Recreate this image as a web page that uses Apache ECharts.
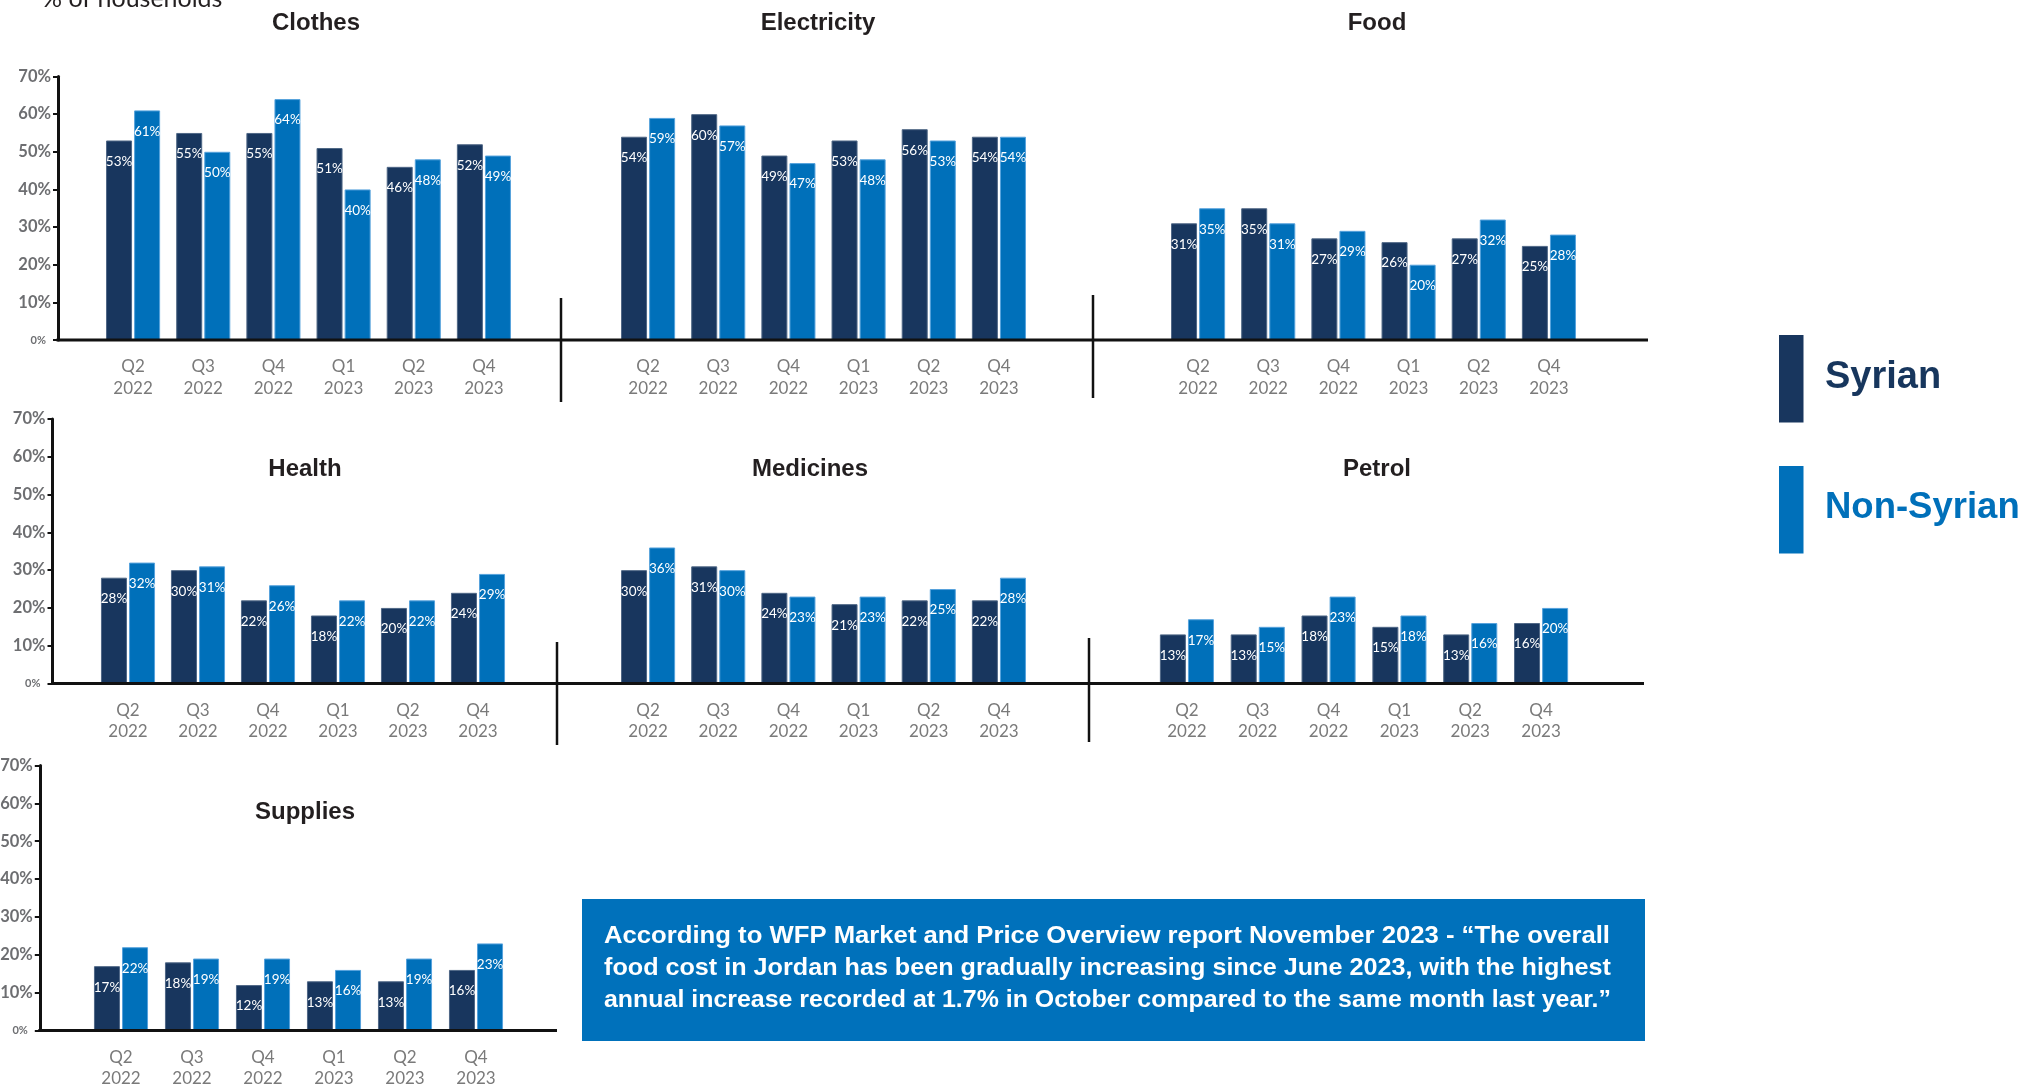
<!DOCTYPE html>
<html>
<head>
<meta charset="utf-8">
<title>Households reporting price increases by item</title>
<script src="https://cdn.jsdelivr.net/npm/echarts@6/dist/echarts.min.js"></script>
<style>
  html, body { margin: 0; padding: 0; background: #ffffff; }
  #chart { width: 2022px; height: 1086px; }
</style>
</head>
<body>
<div id="chart"></div>
<script>
// Survey rounds
const quarters = ['Q2', 'Q3', 'Q4', 'Q1', 'Q2', 'Q4'];
const years = ['2022', '2022', '2022', '2023', '2023', '2023'];

// Share of households (%) per item and nationality group
const clothesSyrian = [53, 55, 55, 51, 46, 52];
const clothesNonSyrian = [61, 50, 64, 40, 48, 49];
const electricitySyrian = [54, 60, 49, 53, 56, 54];
const electricityNonSyrian = [59, 57, 47, 48, 53, 54];
const foodSyrian = [31, 35, 27, 26, 27, 25];
const foodNonSyrian = [35, 31, 29, 20, 32, 28];
const healthSyrian = [28, 30, 22, 18, 20, 24];
const healthNonSyrian = [32, 31, 26, 22, 22, 29];
const medicinesSyrian = [30, 31, 24, 21, 22, 22];
const medicinesNonSyrian = [36, 30, 23, 23, 25, 28];
const petrolSyrian = [13, 13, 18, 15, 13, 16];
const petrolNonSyrian = [17, 15, 23, 18, 16, 20];
const suppliesSyrian = [17, 18, 12, 13, 13, 16];
const suppliesNonSyrian = [22, 19, 19, 16, 19, 23];

// Value axis
const yMin = 0, yMax = 70, yStep = 10;

const seriesNames = ['Syrian', 'Non-Syrian'];
const quoteText = [
  'According to WFP Market and Price Overview report November 2023 - \u201cThe overall',
  'food cost in Jordan has been gradually increasing since June 2023, with the highest',
  'annual increase recorded at 1.7% in October compared to the same month last year.\u201d'
];

const categories = quarters.map((q, i) => q + '\n' + years[i]);

const COLOR_SYR = '#18365e';
const COLOR_NON = '#0070ba';
const AXIS = '#111111';

// Panel layout: plot rectangles in pixels, axisOffset puts the value axis
// to the left of the first panel in each row.
const rows = [
  { top: 76.5, height: 263.5 },
  { top: 419, height: 264.5 },
  { top: 765.5, height: 265 }
];
const panels = [
  { title: 'Clothes',     syr: clothesSyrian,     non: clothesNonSyrian,     row: 0, left: 98,    width: 421, titleX: 316,  axisOffset: 40 },
  { title: 'Electricity', syr: electricitySyrian, non: electricityNonSyrian, row: 0, left: 613,   width: 421, titleX: 818 },
  { title: 'Food',        syr: foodSyrian,        non: foodNonSyrian,        row: 0, left: 1163,  width: 421, titleX: 1377 },
  { title: 'Health',      syr: healthSyrian,      non: healthNonSyrian,      row: 1, left: 93,    width: 420, titleX: 305,  axisOffset: 40.5 },
  { title: 'Medicines',   syr: medicinesSyrian,   non: medicinesNonSyrian,   row: 1, left: 613,   width: 421, titleX: 810 },
  { title: 'Petrol',      syr: petrolSyrian,      non: petrolNonSyrian,      row: 1, left: 1151.5, width: 425, titleX: 1377 },
  { title: 'Supplies',    syr: suppliesSyrian,    non: suppliesNonSyrian,    row: 2, left: 85.5,  width: 426, titleX: 305,  axisOffset: 45.7 }
];
const titleY = [23.4, 469.4, 812.7];

const grids = [], xAxes = [], yAxes = [], series = [];

panels.forEach((p, i) => {
  const r = rows[p.row];
  grids.push({
    left: p.left, top: r.top, width: p.width, height: r.height,
    containLabel: false, outerBoundsMode: 'none'
  });
  xAxes.push({
    gridIndex: i,
    type: 'category',
    data: categories,
    axisLine: { show: false },
    axisTick: { show: false },
    splitLine: { show: false },
    axisLabel: {
      interval: 0, margin: 16, color: '#7a7a7a',
      fontFamily: 'Lato', fontSize: 17, lineHeight: 21.5
    }
  });
  const hasAxis = p.axisOffset !== undefined;
  yAxes.push({
    gridIndex: i,
    type: 'value',
    min: yMin, max: yMax, interval: yStep,
    show: hasAxis,
    position: 'left',
    offset: hasAxis ? p.axisOffset : 0,
    splitLine: { show: false },
    axisLine: { show: true, lineStyle: { color: AXIS, width: 3 } },
    axisTick: { show: true, inside: false, length: 5, lineStyle: { color: AXIS, width: 2 } },
    axisLabel: {
      margin: 7, color: '#6d6e71', fontFamily: 'Lato', fontWeight: 'bold', fontSize: 16.5,
      formatter: v => (v === 0 ? '{z|0%}' : v + '%'),
      rich: { z: { fontSize: 11, fontWeight: 'bold', color: '#6d6e71', fontFamily: 'Lato', padding: [0, 5, 0, 0] } }
    }
  });
  const label = {
    show: true, position: 'insideTop', distance: 14,
    color: '#ffffff', fontFamily: 'Lato', fontSize: 13.5,
    formatter: d => d.value + '%'
  };
  series.push({
    name: seriesNames[0], type: 'bar', xAxisIndex: i, yAxisIndex: i,
    data: p.syr, barWidth: 26, barGap: '8%',
    itemStyle: { color: COLOR_SYR, borderColor: '#4f6786', borderWidth: 1 },
    label: label, silent: true
  });
  series.push({
    name: seriesNames[1], type: 'bar', xAxisIndex: i, yAxisIndex: i,
    data: p.non, barWidth: 26, barGap: '8%',
    itemStyle: { color: COLOR_NON, borderColor: '#56a2dc', borderWidth: 1 },
    label: label, silent: true
  });
});

// Decorations: panel titles, baselines, separators, legend, note box
const graphic = [];
const baseY = rows.map(r => r.top + r.height);

graphic.push({
  type: 'text', x: 42, y: -1, z: 10,
  style: { text: '% of households', font: '25px Lato', fill: '#231f20', textAlign: 'left', textVerticalAlign: 'middle' }
});

panels.forEach(p => {
  graphic.push({
    type: 'text', x: p.titleX, y: titleY[p.row], z: 10,
    style: { text: p.title, font: 'bold 24px "Liberation Sans", Arial, sans-serif', fill: '#231f20', textAlign: 'center', textVerticalAlign: 'middle' }
  });
});

const baselines = [[56.5, 1648], [51, 1644], [38.3, 557]];
baselines.forEach((b, i) => {
  graphic.push({
    type: 'line', z: 20,
    shape: { x1: b[0], y1: baseY[i], x2: b[1], y2: baseY[i] },
    style: { stroke: AXIS, lineWidth: 3 }
  });
});

const separators = [[561, 298, 402], [1093, 295, 398], [557, 642, 745], [1089, 638, 742]];
separators.forEach(s => {
  graphic.push({
    type: 'line', z: 20,
    shape: { x1: s[0], y1: s[1], x2: s[0], y2: s[2] },
    style: { stroke: AXIS, lineWidth: 2.5 }
  });
});

// Legend
const legendItems = [
  { name: seriesNames[0], color: COLOR_SYR, textColor: '#17365d', top: 335, textY: 378, size: 38 },
  { name: seriesNames[1], color: COLOR_NON, textColor: '#0070ba', top: 466, textY: 508, size: 36.5 }
];
legendItems.forEach(l => {
  graphic.push({ type: 'rect', z: 10, shape: { x: 1779, y: l.top, width: 24.5, height: 87.5 }, style: { fill: l.color } });
  graphic.push({
    type: 'text', x: 1825, y: l.textY, z: 10,
    style: { text: l.name, font: 'bold ' + l.size + 'px "Liberation Sans", Arial, sans-serif', fill: l.textColor, textAlign: 'left', textVerticalAlign: 'middle' }
  });
});

// Note box; each line of the condensed bold text is fitted to its width
graphic.push({ type: 'rect', z: 10, shape: { x: 582, y: 899, width: 1063, height: 142 }, style: { fill: '#0071bb' } });
const noteFont = 'bold 24px "Liberation Sans", Arial, sans-serif';
const noteWidths = [1006, 1007, 1007];
const ctx = document.createElement('canvas').getContext('2d');
ctx.font = noteFont;
quoteText.forEach((line, i) => {
  graphic.push({
    type: 'text', x: 604, y: 936 + i * 32.2, z: 11,
    scaleX: noteWidths[i] / ctx.measureText(line).width,
    style: { text: line, font: noteFont, fill: '#ffffff', textAlign: 'left', textVerticalAlign: 'middle' }
  });
});

const chart = echarts.init(document.getElementById('chart'), null, { renderer: 'canvas' });
chart.setOption({
  backgroundColor: '#ffffff',
  animation: false,
  grid: grids,
  xAxis: xAxes,
  yAxis: yAxes,
  series: series,
  graphic: graphic
});
</script>
</body>
</html>
